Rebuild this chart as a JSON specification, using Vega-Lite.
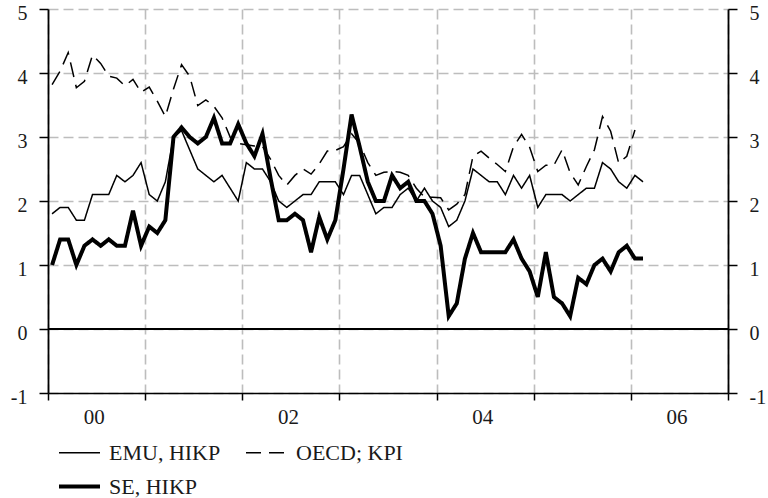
{
  "$schema": "https://vega.github.io/schema/vega-lite/v6.json",
  "width": 680,
  "height": 384,
  "autosize": {"type": "none"},
  "padding": {"left": 48, "top": 9, "right": 40, "bottom": 105},
  "background": "white",
  "config": {
    "view": {"stroke": null},
    "font": "Liberation Serif",
    "axis": {"labelFont": "Liberation Serif", "labelColor": "#1a1a1a", "labelFontSize": 20, "title": null}
  },
  "data": {
    "values": [
      {"t": 2000.042, "EMU": 1.8, "OECD": 3.82, "SE": 1.0},
      {"t": 2000.125, "EMU": 1.9, "OECD": 4.03, "SE": 1.4},
      {"t": 2000.208, "EMU": 1.9, "OECD": 4.32, "SE": 1.4},
      {"t": 2000.292, "EMU": 1.7, "OECD": 3.77, "SE": 1.0},
      {"t": 2000.375, "EMU": 1.7, "OECD": 3.87, "SE": 1.3},
      {"t": 2000.458, "EMU": 2.1, "OECD": 4.28, "SE": 1.4},
      {"t": 2000.542, "EMU": 2.1, "OECD": 4.15, "SE": 1.3},
      {"t": 2000.625, "EMU": 2.1, "OECD": 3.95, "SE": 1.4},
      {"t": 2000.708, "EMU": 2.4, "OECD": 3.92, "SE": 1.3},
      {"t": 2000.792, "EMU": 2.3, "OECD": 3.8, "SE": 1.3},
      {"t": 2000.875, "EMU": 2.4, "OECD": 3.9, "SE": 1.85},
      {"t": 2000.958, "EMU": 2.6, "OECD": 3.7, "SE": 1.3},
      {"t": 2001.042, "EMU": 2.1, "OECD": 3.78, "SE": 1.6},
      {"t": 2001.125, "EMU": 2.0, "OECD": 3.56, "SE": 1.5},
      {"t": 2001.208, "EMU": 2.3, "OECD": 3.32, "SE": 1.7},
      {"t": 2001.292, "EMU": 3.0, "OECD": 3.75, "SE": 3.0},
      {"t": 2001.375, "EMU": 3.1, "OECD": 4.13, "SE": 3.15},
      {"t": 2001.458, "EMU": 2.8, "OECD": 3.95, "SE": 3.0},
      {"t": 2001.542, "EMU": 2.5, "OECD": 3.49, "SE": 2.9},
      {"t": 2001.625, "EMU": 2.4, "OECD": 3.58, "SE": 3.0},
      {"t": 2001.708, "EMU": 2.3, "OECD": 3.48, "SE": 3.3},
      {"t": 2001.792, "EMU": 2.4, "OECD": 3.3, "SE": 2.9},
      {"t": 2001.875, "EMU": 2.2, "OECD": 3.0, "SE": 2.9},
      {"t": 2001.958, "EMU": 2.0, "OECD": 2.9, "SE": 3.2},
      {"t": 2002.042, "EMU": 2.6, "OECD": 2.88, "SE": 2.9},
      {"t": 2002.125, "EMU": 2.5, "OECD": 2.86, "SE": 2.7},
      {"t": 2002.208, "EMU": 2.5, "OECD": 2.85, "SE": 3.05},
      {"t": 2002.292, "EMU": 2.3, "OECD": 2.65, "SE": 2.35},
      {"t": 2002.375, "EMU": 2.0, "OECD": 2.4, "SE": 1.7},
      {"t": 2002.458, "EMU": 1.9, "OECD": 2.25, "SE": 1.7},
      {"t": 2002.542, "EMU": 2.0, "OECD": 2.4, "SE": 1.8},
      {"t": 2002.625, "EMU": 2.1, "OECD": 2.5, "SE": 1.7},
      {"t": 2002.708, "EMU": 2.1, "OECD": 2.42, "SE": 1.2},
      {"t": 2002.792, "EMU": 2.3, "OECD": 2.58, "SE": 1.75},
      {"t": 2002.875, "EMU": 2.3, "OECD": 2.78, "SE": 1.4},
      {"t": 2002.958, "EMU": 2.3, "OECD": 2.79, "SE": 1.7},
      {"t": 2003.042, "EMU": 2.1, "OECD": 2.85, "SE": 2.5},
      {"t": 2003.125, "EMU": 2.4, "OECD": 3.05, "SE": 3.35},
      {"t": 2003.208, "EMU": 2.4, "OECD": 2.9, "SE": 2.85},
      {"t": 2003.292, "EMU": 2.1, "OECD": 2.6, "SE": 2.3},
      {"t": 2003.375, "EMU": 1.8, "OECD": 2.4, "SE": 2.0},
      {"t": 2003.458, "EMU": 1.9, "OECD": 2.45, "SE": 2.0},
      {"t": 2003.542, "EMU": 1.9, "OECD": 2.46, "SE": 2.4},
      {"t": 2003.625, "EMU": 2.1, "OECD": 2.45, "SE": 2.2},
      {"t": 2003.708, "EMU": 2.2, "OECD": 2.4, "SE": 2.3},
      {"t": 2003.792, "EMU": 2.0, "OECD": 2.2, "SE": 2.0},
      {"t": 2003.875, "EMU": 2.2, "OECD": 2.06, "SE": 2.0},
      {"t": 2003.958, "EMU": 2.0, "OECD": 2.06, "SE": 1.8},
      {"t": 2004.042, "EMU": 1.9, "OECD": 2.05, "SE": 1.3},
      {"t": 2004.125, "EMU": 1.6, "OECD": 1.86, "SE": 0.2},
      {"t": 2004.208, "EMU": 1.7, "OECD": 1.95, "SE": 0.4},
      {"t": 2004.292, "EMU": 2.0, "OECD": 2.1, "SE": 1.1},
      {"t": 2004.375, "EMU": 2.5, "OECD": 2.7, "SE": 1.5},
      {"t": 2004.458, "EMU": 2.4, "OECD": 2.78, "SE": 1.2},
      {"t": 2004.542, "EMU": 2.3, "OECD": 2.67, "SE": 1.2},
      {"t": 2004.625, "EMU": 2.3, "OECD": 2.57, "SE": 1.2},
      {"t": 2004.708, "EMU": 2.1, "OECD": 2.46, "SE": 1.2},
      {"t": 2004.792, "EMU": 2.4, "OECD": 2.85, "SE": 1.4},
      {"t": 2004.875, "EMU": 2.2, "OECD": 3.04, "SE": 1.1},
      {"t": 2004.958, "EMU": 2.4, "OECD": 2.84, "SE": 0.9},
      {"t": 2005.042, "EMU": 1.9, "OECD": 2.46, "SE": 0.5},
      {"t": 2005.125, "EMU": 2.1, "OECD": 2.56, "SE": 1.2},
      {"t": 2005.208, "EMU": 2.1, "OECD": 2.56, "SE": 0.5},
      {"t": 2005.292, "EMU": 2.1, "OECD": 2.8, "SE": 0.4},
      {"t": 2005.375, "EMU": 2.0, "OECD": 2.44, "SE": 0.2},
      {"t": 2005.458, "EMU": 2.1, "OECD": 2.25, "SE": 0.8},
      {"t": 2005.542, "EMU": 2.2, "OECD": 2.54, "SE": 0.7},
      {"t": 2005.625, "EMU": 2.2, "OECD": 2.8, "SE": 1.0},
      {"t": 2005.708, "EMU": 2.6, "OECD": 3.32, "SE": 1.1},
      {"t": 2005.792, "EMU": 2.5, "OECD": 3.09, "SE": 0.9},
      {"t": 2005.875, "EMU": 2.3, "OECD": 2.59, "SE": 1.2},
      {"t": 2005.958, "EMU": 2.2, "OECD": 2.7, "SE": 1.3},
      {"t": 2006.042, "EMU": 2.4, "OECD": 3.11, "SE": 1.1},
      {"t": 2006.125, "EMU": 2.3, "OECD": null, "SE": 1.1}
    ]
  },
  "layer": [
    {
      "transform": [
        {"fold": ["EMU", "OECD", "SE"], "as": ["series", "value"]},
        {"filter": "datum.value != null"}
      ],
      "mark": {"type": "line", "color": "black"},
      "encoding": {
        "x": {
          "field": "t", "type": "quantitative",
          "scale": {"domain": [2000, 2007], "nice": false, "zero": false},
          "axis": {
            "values": [2000, 2001, 2002, 2003, 2004, 2005, 2006, 2007, 2000.47, 2002.47, 2004.47, 2006.47],
            "labelExpr": "datum.value % 1 == 0 ? '' : '0' + floor(datum.value - 2000)",
            "labelOverlap": false, "labelFlush": false, "labelBound": false,
            "labelPadding": 6, "labelFontSize": 21,
            "domainColor": "black", "domainWidth": 1.6,
            "tickColor": "black", "tickWidth": 1.5, "tickSize": 7,
            "tickOpacity": {"condition": {"test": "datum.value % 1 == 0", "value": 1}, "value": 0},
            "grid": true, "gridColor": "#bdbdbd", "gridDash": [10, 5], "gridWidth": 1.6,
            "gridOpacity": {"condition": {"test": "datum.value % 1 == 0", "value": 1}, "value": 0}
          }
        },
        "y": {
          "field": "value", "type": "quantitative",
          "scale": {"domain": [-1, 5], "nice": false, "zero": false},
          "axis": {
            "orient": "left",
            "values": [-1, 0, 1, 2, 3, 4, 5],
            "labelExpr": "'' + datum.value",
            "labelPadding": 12, "labelOffset": 4,
            "domainColor": "black", "domainWidth": 1.8,
            "tickColor": "black", "tickWidth": 1.5, "tickSize": 9,
            "grid": true, "gridColor": "#bdbdbd", "gridDash": [10, 5], "gridWidth": 1.6
          }
        },
        "strokeDash": {
          "field": "series", "type": "nominal",
          "scale": {"domain": ["EMU", "OECD", "SE"], "range": [[1, 0], [15, 8], [1, 0]]},
          "legend": {
            "title": null, "orient": "none", "direction": "horizontal", "legendX": 9, "legendY": 422, "columns": 2,
            "symbolType": "stroke", "symbolSize": 1681, "symbolStrokeColor": "black",
            "labelFont": "Liberation Serif", "labelFontSize": 22, "labelColor": "#1a1a1a",
            "labelOffset": 7, "columnPadding": 22, "rowPadding": -18,
            "labelExpr": "datum.label == 'EMU' ? 'EMU, HIKP' : (datum.label == 'OECD' ? 'OECD; KPI' : 'SE, HIKP')"
          }
        },
        "strokeWidth": {
          "field": "series", "type": "nominal",
          "scale": {"type": "ordinal", "domain": ["EMU", "OECD", "SE"], "range": [1.5, 1.5, 4]},
          "legend": {
            "title": null, "orient": "none", "direction": "horizontal", "legendX": 9, "legendY": 422, "columns": 2,
            "symbolType": "stroke", "symbolSize": 1681, "symbolStrokeColor": "black",
            "labelFont": "Liberation Serif", "labelFontSize": 22, "labelColor": "#1a1a1a",
            "labelOffset": 7, "columnPadding": 22, "rowPadding": -18,
            "labelExpr": "datum.label == 'EMU' ? 'EMU, HIKP' : (datum.label == 'OECD' ? 'OECD; KPI' : 'SE, HIKP')"
          }
        }
      }
    },
    {
      "data": {"values": [{"z": 0}]},
      "mark": {"type": "rule", "color": "black", "strokeWidth": 2},
      "encoding": {
        "y": {
          "field": "z", "type": "quantitative",
          "axis": {
            "orient": "right",
            "values": [-1, 0, 1, 2, 3, 4, 5],
            "labelExpr": "'' + datum.value",
            "labelPadding": 12, "labelOffset": 4,
            "domainColor": "black", "domainWidth": 1.8,
            "tickColor": "black", "tickWidth": 1.5, "tickSize": 9,
            "grid": false
          }
        }
      }
    }
  ],
  "resolve": {"axis": {"y": "independent"}}
}
